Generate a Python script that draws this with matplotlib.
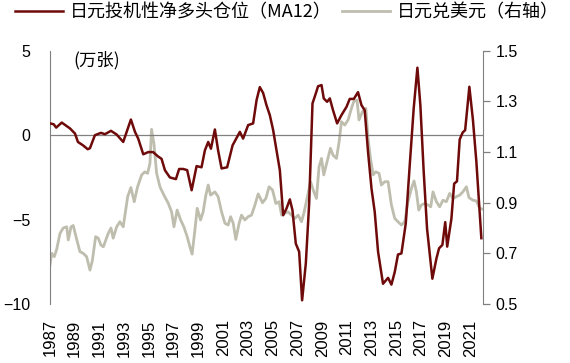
import matplotlib
matplotlib.use("Agg")
import matplotlib.pyplot as plt
from matplotlib.lines import Line2D

plt.rcParams['font.family'] = ['Liberation Sans', 'Noto Sans CJK SC', 'DejaVu Sans']
plt.rcParams['axes.unicode_minus'] = True

# 日元投机性净多头仓位（MA12），万张
pos_year = [1987.0, 1987.3, 1987.5, 1987.95, 1988.62, 1989.02, 1989.26, 1989.67, 1990.05, 1990.23,
            1990.63, 1991.12, 1991.44, 1991.93, 1992.39, 1992.92, 1993.54, 1993.87, 1994.13, 1994.54,
            1994.94, 1995.34, 1995.72, 1996.02, 1996.29, 1996.69, 1997.18, 1997.44, 1997.77, 1998.09,
            1998.45, 1998.85, 1999.25, 1999.52, 1999.79, 2000.01, 2000.33, 2000.59, 2000.87, 2001.32,
            2001.76, 2002.35, 2002.61, 2003.02, 2003.42, 2003.70, 2003.96, 2004.23, 2004.50, 2004.77,
            2005.04, 2005.31, 2005.58, 2005.85, 2006.12, 2006.39, 2006.60, 2006.87, 2007.14, 2007.38,
            2007.68, 2007.95, 2008.22, 2008.49, 2008.67, 2008.95, 2009.13, 2009.40, 2009.62, 2009.88,
            2010.21, 2010.56, 2010.97, 2011.23, 2011.56, 2011.90, 2012.18, 2012.44, 2012.71, 2012.99,
            2013.25, 2013.52, 2013.92, 2014.33, 2014.60, 2014.87, 2015.13, 2015.41, 2015.76, 2016.08,
            2016.40, 2016.70, 2016.94, 2017.21, 2017.48, 2017.91, 2018.24, 2018.45, 2018.72, 2018.95,
            2019.11, 2019.45, 2019.67, 2019.90, 2020.12, 2020.36, 2020.56, 2020.90, 2021.19, 2021.47,
            2021.87]
pos_val = [0.7, 0.65, 0.45, 0.75, 0.4, 0.1, -0.4, -0.6, -0.83, -0.77,
           0.0, 0.14, 0.06, 0.26, 0.04, -0.4, 0.93, 0.2, -0.2, -1.13,
           -1.0, -1.0, -1.25, -1.4, -2.07, -2.5, -2.6, -2.0, -2.0, -2.07,
           -3.26, -1.83, -1.9, -0.9, -0.4, -0.8, 0.34, -0.9, -1.97, -1.9,
           -0.6, 0.2, -0.2, 0.6, 0.7, 2.08, 2.85, 2.5, 1.78, 1.19,
           0.3, -0.89, -2.07, -4.74, -4.34, -3.8, -4.44, -6.42, -6.9, -9.78,
           -7.6, -4.05, 1.88, 2.48, 2.9, 2.97, 2.18, 1.98, 2.18, 1.48,
           0.7, 1.19, 1.68, 2.15, 2.15, 2.55, 1.78, 1.48, -0.99, -3.16,
           -4.54, -6.9, -8.8, -8.45, -8.85, -8.1, -7.07, -7.0, -5.23, -1.78,
           1.58, 4.0, 1.78, -2.17, -5.53, -8.5, -7.3, -6.7, -6.5, -5.15,
           -6.6, -4.94, -2.87, -2.73, -0.25, 0.16, 0.3, 2.87, 0.9, -1.6,
           -6.1]

# 日元兑美元（右轴）
fx_year = [1987.0, 1987.14, 1987.35, 1987.54, 1987.81, 1988.07, 1988.35, 1988.48, 1988.70, 1988.88,
           1989.16, 1989.42, 1989.69, 1989.96, 1990.23, 1990.42, 1990.69, 1990.90, 1991.12, 1991.31,
           1991.71, 1991.93, 1992.11, 1992.39, 1992.65, 1992.92, 1993.28, 1993.54, 1993.81, 1994.08,
           1994.41, 1994.67, 1994.89, 1995.08, 1995.21, 1995.40, 1995.62, 1995.89, 1996.21, 1996.56,
           1996.83, 1997.02, 1997.28, 1997.56, 1997.82, 1998.09, 1998.31, 1998.49, 1998.71, 1998.90,
           1999.17, 1999.38, 1999.60, 1999.79, 1999.98, 2000.33, 2000.59, 2000.87, 2001.14, 2001.40,
           2001.60, 2001.81, 2002.02, 2002.29, 2002.48, 2002.75, 2003.02, 2003.29, 2003.56, 2003.83,
           2004.18, 2004.45, 2004.71, 2004.99, 2005.26, 2005.52, 2005.72, 2005.98, 2006.25, 2006.52,
           2006.79, 2007.06, 2007.33, 2007.52, 2007.78, 2008.06, 2008.33, 2008.54, 2008.75, 2008.95,
           2009.13, 2009.40, 2009.67, 2009.88, 2010.16, 2010.37, 2010.56, 2010.83, 2011.10, 2011.37,
           2011.56, 2011.82, 2011.98, 2012.26, 2012.53, 2012.71, 2012.91, 2013.12, 2013.33, 2013.60,
           2013.79, 2014.06, 2014.33, 2014.60, 2014.87, 2015.13, 2015.41, 2015.68, 2015.94, 2016.22,
           2016.43, 2016.62, 2016.81, 2017.02, 2017.29, 2017.56, 2017.78, 2017.96, 2018.24, 2018.50,
           2018.77, 2019.04, 2019.31, 2019.58, 2019.85, 2020.12, 2020.38, 2020.66, 2020.87, 2021.19,
           2021.47, 2021.73, 2021.95]
fx_val = [0.654, 0.70, 0.687, 0.716, 0.779, 0.80, 0.805, 0.753, 0.805, 0.81,
          0.755, 0.707, 0.70, 0.687, 0.634, 0.67, 0.766, 0.76, 0.733, 0.726,
          0.779, 0.80, 0.76, 0.805, 0.825, 0.805, 0.924, 0.96, 0.904, 0.963,
          1.01, 1.022, 1.016, 1.055, 1.19, 1.134, 1.016, 0.963, 0.93, 0.898,
          0.864, 0.805, 0.871, 0.832, 0.805, 0.766, 0.726, 0.697, 0.79, 0.878,
          0.832, 0.864, 0.93, 0.97, 0.93, 0.943, 0.924, 0.864, 0.819, 0.812,
          0.845, 0.819, 0.755, 0.819, 0.851, 0.832, 0.845, 0.851, 0.89, 0.935,
          0.90, 0.917, 0.963, 0.95, 0.897, 0.904, 0.851, 0.858, 0.864, 0.851,
          0.838, 0.851, 0.825, 0.858, 0.917, 0.983, 0.943, 0.917, 1.042, 1.075,
          1.01, 1.062, 1.115, 1.088, 1.075, 1.14, 1.22, 1.207, 1.227, 1.273,
          1.30, 1.305, 1.227, 1.26, 1.273, 1.154, 1.075, 1.01, 1.022, 1.016,
          0.97, 0.983, 0.983, 0.891, 0.838, 0.825, 0.812, 0.825, 0.904, 0.957,
          0.986, 0.943, 0.871, 0.891, 0.897, 0.891, 0.884, 0.943, 0.904, 0.884,
          0.91, 0.904, 0.937, 0.917, 0.924, 0.93, 0.943, 0.963, 0.92, 0.91,
          0.907, 0.878, 0.875]

xtick_years = list(range(1987, 2022, 2))
left_ticks = [-10, -5, 0, 5]
right_ticks = [0.5, 0.7, 0.9, 1.1, 1.3, 1.5]

RED = '#6E0A0A'
GRAY = '#BEBDAE'
AXC = '#808080'
CJK = ['Noto Sans CJK SC', 'DejaVu Sans']

fig = plt.figure(figsize=(5.70, 3.63), dpi=100)
ax = fig.add_axes([0.0877, 0.1625, 0.7596, 0.6975])
ax2 = ax.twinx()

ax2.plot(fx_year, fx_val, color=GRAY, lw=2.0, zorder=2)
ax.plot(pos_year, pos_val, color=RED, lw=1.8, zorder=3)
ax.axhline(0, color=AXC, lw=0.9, zorder=1)

ax.set_zorder(ax2.get_zorder() + 1)
ax.patch.set_visible(False)

ax.set_xlim(1987, 2022)
ax.set_ylim(-10, 5)
ax2.set_ylim(0.5, 1.5)

ax.set_yticks(left_ticks)
ax.set_yticklabels([str(t).replace('-', '\u2212') for t in left_ticks])
ax2.set_yticks(right_ticks)
ax2.set_yticklabels([f"{t:.1f}" for t in right_ticks])
ax.set_xticks(xtick_years)
ax.set_xticklabels([str(y) for y in xtick_years], rotation=90)

for a in (ax, ax2):
    for s in ('top', 'bottom'):
        a.spines[s].set_visible(False)
ax.spines['right'].set_visible(False)
ax2.spines['left'].set_visible(False)
ax.spines['left'].set_color(AXC)
ax2.spines['right'].set_color(AXC)

ax.tick_params(axis='y', length=0, pad=14, labelsize=11.5, colors='black')
ax.tick_params(axis='x', length=0, pad=11, labelsize=12)
ax2.tick_params(axis='y', length=5, width=0.9, color=AXC, direction='out', pad=4, labelsize=11.5)

ax.text(0.055, 1.0, '(万张)', transform=ax.transAxes, ha='left', va='top',
        fontsize=12.5, family=CJK)

handles = [Line2D([], [], color=RED, lw=1.8), Line2D([], [], color=GRAY, lw=2.0)]
labels = ['日元投机性净多头仓位（MA12）', '日元兑美元（右轴）']
fig.legend(handles, labels, loc='upper left', bbox_to_anchor=(15 / 570, 1 - 3 / 363), ncol=2,
           frameon=False, prop={'family': CJK, 'size': 13}, handlelength=2.65,
           handletextpad=0.38, columnspacing=0.6, borderaxespad=0, borderpad=0)

fig.savefig('out.png', dpi=100)
